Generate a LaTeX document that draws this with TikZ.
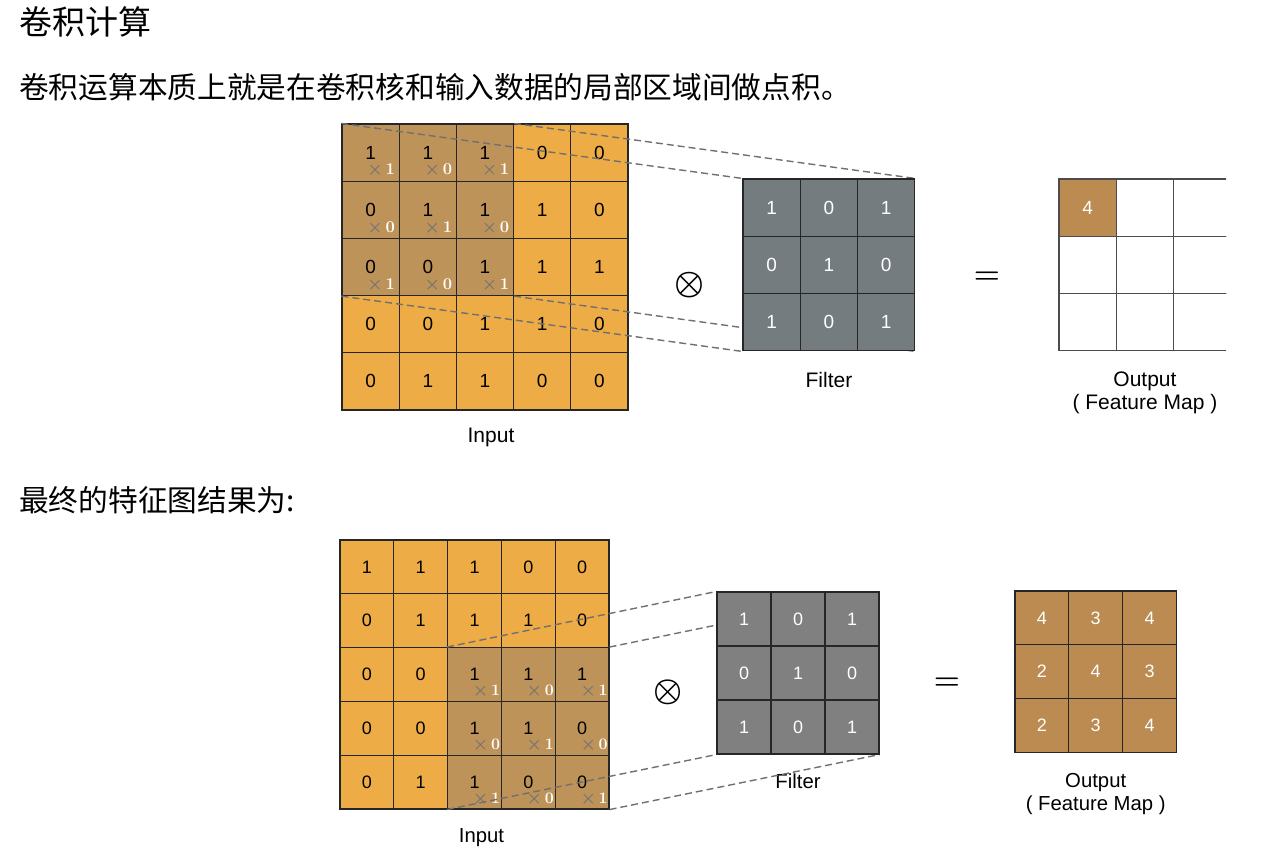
\documentclass[tikz,border=0pt]{standalone}
\usepackage{fontspec}
\setsansfont{Liberation Sans}
\newfontfamily\cjk{Noto Sans CJK SC}
\usetikzlibrary{positioning}
\definecolor{inorange}{HTML}{EEAC46}
\definecolor{winbrown}{HTML}{BE935A}
\definecolor{outbrown}{HTML}{BB8B52}
\definecolor{slate}{HTML}{747C80}
\definecolor{kgray}{HTML}{808080}
\definecolor{dashgray}{HTML}{707070}
\pgfdeclarelayer{grids}
\pgfdeclarelayer{guides}
\pgfsetlayers{grids,guides,main}
\newcommand{\mulby}[1]{\textcolor{black!55}{\boldmath$\times$}\,\textcolor{white}{\bfseries #1}}

\begin{document}
\begin{tikzpicture}[x=1pt, y=-1pt,
  gridcell/.style={draw=black!85, line width=1.1pt, inner sep=0pt},
  topcell/.style={gridcell, minimum size=57.2pt, font=\sffamily\fontsize{19}{19}\selectfont},
  botcell/.style={gridcell, minimum size=53.8pt, font=\sffamily\fontsize{18}{18}\selectfont},
  wtext/.style={inner sep=0pt, font=\fontsize{16.5}{16.5}\selectfont},
  guideline/.style={draw=dashgray, line width=1.4pt, dash pattern=on 7pt off 4pt},
  caption/.style={inner sep=0pt, align=center, font=\sffamily\fontsize{21}{23.5}\selectfont},
  optext/.style={inner sep=0pt, scale=1.35, font=\boldmath\fontsize{24.88}{24.88}\selectfont},
  eqtext/.style={inner sep=0pt, scale=1.2, font=\boldmath\fontsize{24.88}{24.88}\selectfont},
  headtext/.style={anchor=west, inner sep=0pt, font=\cjk\fontsize{29.7}{29.7}\selectfont}]
\useasboundingbox (0,0) rectangle (1274,852);

% headings
\node[headtext, font=\cjk\fontsize{33}{33}\selectfont] (title) at (19,22) {卷积计算};
\node[headtext] (intro) at (19,87) {卷积运算本质上就是在卷积核和输入数据的局部区域间做点积。};
\node[headtext] (result) at (19,500) {最终的特征图结果为:};

% ---- first step ----
\begin{pgfonlayer}{grids}
\foreach \row [count=\r] in {{1,1,1,0,0},{0,1,1,1,0},{0,0,1,1,1},{0,0,1,1,0},{0,1,1,0,0}}
  \foreach \v [count=\c] in \row {
    \pgfmathtruncatemacro\inwin{and(\r<4,\c<4)}
    \ifnum\inwin=1 \def\cellfill{winbrown}\else\def\cellfill{inorange}\fi
    \node[topcell, fill=\cellfill] (ta-\r-\c) at ({342+57.2*(\c-0.5)},{124+57.2*(\r-0.5)}) {\v};
  }
\foreach \w [count=\k from 0] in {1,0,1,0,1,0,1,0,1} {
  \pgfmathtruncatemacro\r{div(\k,3)+1}
  \pgfmathtruncatemacro\c{mod(\k,3)+1}
  \node[wtext, xshift=10.5pt, yshift=-18pt] (tw-\r-\c) at (ta-\r-\c) {\mulby{\w}};
}
\node[caption, below=17.5pt of ta-5-3, xshift=6pt] (tinlabel) {Input};
\end{pgfonlayer}

\foreach \row [count=\r] in {{1,0,1},{0,1,0},{1,0,1}}
  \foreach \v [count=\c] in \row
    \node[topcell, fill=slate, text=white, minimum size=57.3pt] (tf-\r-\c) at ({743+57.3*(\c-0.5)},{179+57.3*(\r-0.5)}) {\v};
\node[caption, below=21pt of tf-3-2] (tflabel) {Filter};

\begin{scope}
\clip (1050,170) rectangle (1226,360);
\foreach \r in {1,2,3}
  \foreach \c in {1,2,3}
    \node[topcell, draw=black!70, minimum size=57.3pt] (to-\r-\c) at ({1059+57.3*(\c-0.5)},{179+57.3*(\r-0.5)}) {};
\node[topcell, draw=black!70, fill=outbrown, text=white, minimum size=57.3pt] (to-first) at (to-1-1) {4};
\end{scope}
\node[caption, below=20pt of to-3-2] (tolabel) {Output\\( Feature Map )};

\node[optext] (ttimes) at (690,285) {$\otimes$};
\node[eqtext] (teq) at (987,278) {$=$};

\begin{pgfonlayer}{guides}
\draw[guideline] (ta-1-1.north west) -- (tf-1-1.north west);
\draw[guideline] (ta-1-3.north east) -- (tf-1-3.north east);
\draw[guideline] (ta-3-1.south west) -- (tf-3-1.south west);
\draw[guideline] (ta-3-3.south east) -- (tf-3-3.south east);
\end{pgfonlayer}

% ---- final step ----
\begin{pgfonlayer}{grids}
\foreach \row [count=\r] in {{1,1,1,0,0},{0,1,1,1,0},{0,0,1,1,1},{0,0,1,1,0},{0,1,1,0,0}}
  \foreach \v [count=\c] in \row {
    \pgfmathtruncatemacro\inwin{and(\r>2,\c>2)}
    \ifnum\inwin=1 \def\cellfill{winbrown}\else\def\cellfill{inorange}\fi
    \node[botcell, fill=\cellfill] (ba-\r-\c) at ({340+53.8*(\c-0.5)},{540+53.8*(\r-0.5)}) {\v};
  }
\foreach \w [count=\k from 0] in {1,0,1,0,1,0,1,0,1} {
  \pgfmathtruncatemacro\r{div(\k,3)+3}
  \pgfmathtruncatemacro\c{mod(\k,3)+3}
  \node[wtext, font=\fontsize{16}{16}\selectfont, xshift=12pt, yshift=-17pt] (bw-\r-\c) at (ba-\r-\c) {\mulby{\w}};
}
\node[caption, below=18.5pt of ba-5-3, xshift=7pt, font=\sffamily\fontsize{20.3}{23}\selectfont] (binlabel) {Input};
\end{pgfonlayer}

\foreach \row [count=\r] in {{1,0,1},{0,1,0},{1,0,1}}
  \foreach \v [count=\c] in \row
    \node[botcell, fill=kgray, text=white, minimum size=54pt] (bf-\r-\c) at ({717+54*(\c-0.5)},{592+54*(\r-0.5)}) {\v};
\begin{pgfonlayer}{grids}
\node[caption, below=19pt of bf-3-2, font=\sffamily\fontsize{20.3}{23}\selectfont] (bflabel) {Filter};
\end{pgfonlayer}

\foreach \row [count=\r] in {{4,3,4},{2,4,3},{2,3,4}}
  \foreach \v [count=\c] in \row
    \node[botcell, fill=outbrown, text=white] (bo-\r-\c) at ({1015+53.8*(\c-0.5)},{591+53.8*(\r-0.5)}) {\v};
\node[caption, below=20pt of bo-3-2, font=\sffamily\fontsize{20.3}{23}\selectfont] (bolabel) {Output\\( Feature Map )};

\node[optext, scale=0.97] (btimes) at (668,692) {$\otimes$};
\node[eqtext] (beq) at (947,684) {$=$};

\begin{pgfonlayer}{guides}
\draw[guideline] (ba-3-3.north west) -- (bf-1-1.north west);
\draw[guideline] (ba-3-5.north east) -- (bf-1-3.north east);
\draw[guideline] (ba-5-3.south west) -- (bf-3-1.south west);
\draw[guideline] (ba-5-5.south east) -- (bf-3-3.south east);
\end{pgfonlayer}
\end{tikzpicture}
\end{document}
